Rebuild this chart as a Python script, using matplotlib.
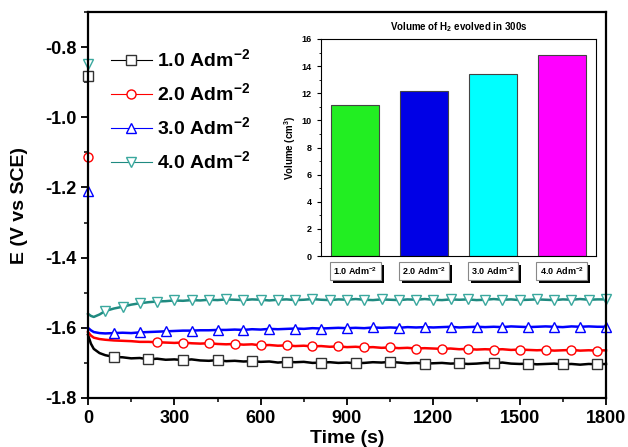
import numpy as np
import matplotlib
matplotlib.use("Agg")
import matplotlib.pyplot as plt
from matplotlib.transforms import blended_transform_factory
import matplotlib.patheffects as pe

plt.rcParams['font.family'] = ['Liberation Sans', 'DejaVu Sans']
plt.rcParams['mathtext.fontset'] = 'custom'
plt.rcParams['mathtext.rm'] = 'Liberation Sans:bold'
plt.rcParams['mathtext.bf'] = 'Liberation Sans:bold'
plt.rcParams['mathtext.it'] = 'Liberation Sans:bold:italic'
plt.rcParams['mathtext.default'] = 'bf'

# ---------------- data ----------------
# potential at the instant of switching on (t = 0)
e_initial = [-0.883, -1.114, -1.209, -0.849]

time_s = [0, 10, 20, 40, 60] + list(range(90, 1801, 30))

e_10 = [-1.620, -1.645, -1.660, -1.672, -1.678, -1.683, -1.684, -1.687, -1.686,
        -1.690, -1.688, -1.691, -1.690, -1.692, -1.690, -1.693, -1.694, -1.692, -1.695,
        -1.694, -1.696, -1.695, -1.697, -1.696, -1.699, -1.697, -1.698, -1.697, -1.700,
        -1.699, -1.698, -1.700, -1.699, -1.701, -1.700, -1.698, -1.699, -1.697, -1.699,
        -1.701, -1.700, -1.702, -1.701, -1.700, -1.702, -1.701, -1.703, -1.702, -1.700,
        -1.701, -1.699, -1.702, -1.703, -1.702, -1.704, -1.703, -1.702, -1.704, -1.703,
        -1.705, -1.703, -1.704, -1.703]

e_20 = [-1.612, -1.622, -1.628, -1.632, -1.634, -1.636, -1.637, -1.638, -1.640,
        -1.640, -1.641, -1.642, -1.643, -1.642, -1.644, -1.645, -1.644, -1.646, -1.647,
        -1.646, -1.648, -1.647, -1.650, -1.649, -1.651, -1.650, -1.652, -1.651, -1.653,
        -1.652, -1.654, -1.653, -1.655, -1.654, -1.656, -1.655, -1.657, -1.656, -1.658,
        -1.657, -1.659, -1.658, -1.659, -1.660, -1.659, -1.661, -1.660, -1.662, -1.661,
        -1.662, -1.661, -1.663, -1.662, -1.663, -1.664, -1.663, -1.665, -1.664, -1.663,
        -1.665, -1.664, -1.665, -1.664]

e_30 = [-1.600, -1.607, -1.612, -1.615, -1.616, -1.615, -1.614, -1.615, -1.613,
        -1.612, -1.611, -1.610, -1.609, -1.608, -1.608, -1.607, -1.607, -1.606, -1.606,
        -1.605, -1.606, -1.604, -1.605, -1.603, -1.604, -1.603, -1.602, -1.603, -1.601,
        -1.602, -1.601, -1.600, -1.601, -1.600, -1.601, -1.599, -1.600, -1.599, -1.600,
        -1.598, -1.599, -1.598, -1.599, -1.598, -1.597, -1.599, -1.598, -1.597, -1.598,
        -1.597, -1.598, -1.596, -1.597, -1.598, -1.597, -1.596, -1.597, -1.598, -1.596,
        -1.597, -1.596, -1.597, -1.597]

e_40 = [-1.560, -1.566, -1.569, -1.562, -1.552, -1.545, -1.540, -1.534, -1.530,
        -1.527, -1.525, -1.524, -1.522, -1.523, -1.521, -1.522, -1.520, -1.521, -1.519,
        -1.520, -1.521, -1.519, -1.520, -1.522, -1.520, -1.519, -1.521, -1.520, -1.518,
        -1.520, -1.521, -1.519, -1.520, -1.518, -1.520, -1.521, -1.519, -1.520, -1.521,
        -1.519, -1.520, -1.518, -1.520, -1.521, -1.519, -1.520, -1.519, -1.521, -1.520,
        -1.518, -1.520, -1.519, -1.521, -1.520, -1.519, -1.520, -1.521, -1.519, -1.520,
        -1.518, -1.520, -1.519, -1.519]

series_labels = ['1.0 Adm$^{-2}$', '2.0 Adm$^{-2}$', '3.0 Adm$^{-2}$', '4.0 Adm$^{-2}$']

bar_categories = ['1.0 Adm$^{-2}$', '2.0 Adm$^{-2}$', '3.0 Adm$^{-2}$', '4.0 Adm$^{-2}$']
bar_volumes = [11.1, 12.2, 13.4, 14.8]

# ---------------- figure ----------------
fig = plt.figure(figsize=(6.28, 4.47), dpi=100)
ax = fig.add_axes([88/628, 1 - 398/447, 518/628, 386/447])

styles = [
    dict(color='black', marker='s', mec='#333333', markevery=list(range(5, 63, 4))),
    dict(color='red', marker='o', mec='red', markevery=list(range(10, 63, 3))),
    dict(color='blue', marker='^', mec='blue', markevery=list(range(5, 63, 3))),
    dict(color='#1f8a80', marker='v', mec='#3aa89e', markevery=list(range(4, 63, 2))),
]
for vals, e0, lab, st in zip([e_10, e_20, e_30, e_40], e_initial, series_labels, styles):
    ax.plot(time_s, vals, color=st['color'], lw=1.8, marker=st['marker'], ms=6.5,
            mfc='white', mec=st['mec'], mew=1.0, markevery=st['markevery'], label=lab,
            clip_on=False, zorder=2)
    ax.plot([0], [e0], linestyle='none', marker=st['marker'], ms=6.5, mfc='white',
            mec=st['mec'], mew=1.0, clip_on=False, zorder=2)

ax.set_xlim(0, 1800)
ax.set_ylim(-1.8, -0.7)
ax.set_xticks(np.arange(0, 1801, 300))
ax.set_xticks(np.arange(0, 1801, 150), minor=True)
ax.set_yticks([-1.8, -1.6, -1.4, -1.2, -1.0, -0.8])
ax.set_yticks(np.arange(-1.8, -0.69, 0.1), minor=True)
ax.set_yticklabels(['-1.8', '-1.6', '-1.4', '-1.2', '-1.0', '-0.8'])
ax.tick_params(direction='out', length=5, width=1.3, labelsize=13)
ax.tick_params(which='minor', direction='out', length=3, width=1.1)
for lbl in ax.get_xticklabels() + ax.get_yticklabels():
    lbl.set_fontweight('bold')
for s in ax.spines.values():
    s.set_linewidth(1.6)
    s.set_zorder(5)
ax.set_xlabel('Time (s)', fontsize=14, fontweight='bold', labelpad=2)
ax.set_ylabel('E (V vs SCE)', fontsize=14, fontweight='bold', labelpad=12)

leg = ax.legend(loc='upper left', bbox_to_anchor=(0.044, 0.905), frameon=False,
                prop=dict(size=14, weight='bold'), handlelength=2.1, handletextpad=0.3,
                labelspacing=0.62, borderpad=0, borderaxespad=0)
for h in leg.legend_handles:
    h.set_linewidth(0.8)

# ---------------- inset ----------------
ins = fig.add_axes([321/628, 1 - 256/447, 275/628, 217/447])
bar_colors = ['#22ee22', '#0000e6', '#00ffff', '#ff00ff']
xpos = np.arange(len(bar_volumes))
ins.bar(xpos, bar_volumes, width=0.7, color=bar_colors, edgecolor='#444444', linewidth=0.8)
ins.set_xlim(-0.5, 3.5)
ins.set_ylim(0, 16)
ins.set_yticks(np.arange(0, 17, 2))
ins.set_yticks(np.arange(0, 17, 1), minor=True)
ins.set_xticks([])
ins.tick_params(direction='out', length=3, width=0.8, labelsize=6.5)
ins.tick_params(which='minor', direction='out', length=1.5, width=0.6)
for lbl in ins.get_yticklabels():
    lbl.set_fontweight('bold')
for s in ins.spines.values():
    s.set_linewidth(0.8)
ins.set_title('Volume of H$_2$ evolved in 300s', fontsize=7, fontweight='bold', pad=6)
ins.set_ylabel('Volume (cm$^3$)', fontsize=7, fontweight='bold', labelpad=3)

trans = blended_transform_factory(ins.transData, ins.transAxes)
for i, cat in enumerate(bar_categories):
    t = ins.text(i, -0.07, cat, transform=trans, ha='center', va='center',
                 fontsize=6.5, fontweight='bold', color='black',
                 bbox=dict(boxstyle='square,pad=0.35', fc='white', ec='#888888', lw=0.8),
                 clip_on=False)
    t.get_bbox_patch().set_path_effects([
        pe.SimplePatchShadow(offset=(2.2, -2.2), shadow_rgbFace='black', alpha=1.0),
        pe.Normal()])

fig.savefig('out.png', dpi=100)
